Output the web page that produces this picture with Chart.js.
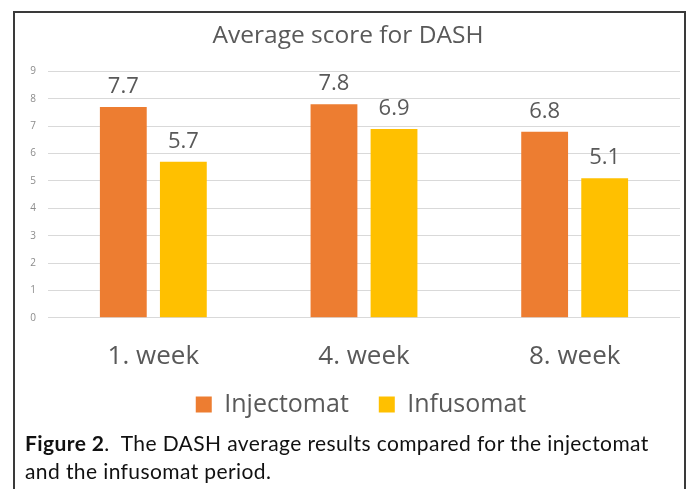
<!DOCTYPE html>
<html lang="en">
<head>
    <meta charset="UTF-8">
    <title>Average score for DASH</title>
    <style>
        body {
            margin: 0;
            padding: 0;
            background-color: white;
            width: 697px;
            height: 489px;
            overflow: hidden;
            position: relative;
        }
        .frame {
            position: absolute;
            left: 13px;
            top: 11px;
            width: 669px;
            height: 500px;
            border: 2px solid #3a3a3a;
        }
        .chart-box {
            position: absolute;
            left: 0;
            top: 0;
            width: 697px;
            height: 440px;
        }
        .caption {
            position: absolute;
            left: 25px;
            top: 429px;
            width: 652px;
            font-family: Lato, "Open Sans", sans-serif;
            font-size: 21px;
            letter-spacing: 0.4px;
            line-height: 28px;
            color: #111;
        }
    </style>
</head>
<body>
    <div class="frame"></div>
    <div class="chart-box"><canvas id="dashChart" width="697" height="440"></canvas></div>
    <div class="caption"><b>Figure 2</b>.&nbsp; The DASH average results compared for the injectomat and the infusomat period.</div>

    <script src="https://cdn.jsdelivr.net/npm/chart.js"></script>
    <script>
        const weeks = ['1. week', '4. week', '8. week'];
        const injectomat = [7.7, 7.8, 6.8];
        const infusomat = [5.7, 6.9, 5.1];
        const yTicks = [0, 1, 2, 3, 4, 5, 6, 7, 8, 9];

        // draw the value above each bar
        const valueLabels = {
            id: 'valueLabels',
            afterDatasetsDraw(chart) {
                const ctx = chart.ctx;
                ctx.save();
                ctx.font = '22px "Open Sans", sans-serif';
                ctx.fillStyle = '#595959';
                ctx.textAlign = 'center';
                ctx.textBaseline = 'alphabetic';
                chart.data.datasets.forEach((ds, i) => {
                    chart.getDatasetMeta(i).data.forEach((bar, j) => {
                        ctx.fillText(ds.data[j].toFixed(1), bar.x, bar.y - 14);
                    });
                });
                ctx.restore();
            }
        };

        // legend sits a little right of the canvas centre in the original
        const legendShift = {
            id: 'legendShift',
            afterLayout(chart) {
                chart.legend.left += 13;
                chart.legend.right += 13;
            }
        };

        new Chart(document.getElementById('dashChart'), {
            type: 'bar',
            data: {
                labels: weeks,
                datasets: [{
                    label: 'Injectomat',
                    data: injectomat,
                    backgroundColor: '#ED7D31',
                    categoryPercentage: 0.57,
                    barPercentage: 0.78
                }, {
                    label: 'Infusomat',
                    data: infusomat,
                    backgroundColor: '#FFC000',
                    categoryPercentage: 0.57,
                    barPercentage: 0.78
                }]
            },
            options: {
                responsive: false,
                animation: false,
                layout: { padding: { left: 16, right: 17, top: 0, bottom: 13 } },
                plugins: {
                    title: {
                        display: true,
                        text: 'Average score for DASH',
                        color: '#595959',
                        font: { family: '"Open Sans", sans-serif', size: 24.5, weight: 'normal' },
                        padding: { top: 21, bottom: 21 }
                    },
                    legend: {
                        position: 'bottom',
                        labels: {
                            color: '#595959',
                            font: { family: '"Open Sans", sans-serif', size: 25 },
                            boxWidth: 16,
                            boxHeight: 16,
                            padding: 5,
                            generateLabels(chart) {
                                const items = Chart.defaults.plugins.legend.labels.generateLabels(chart);
                                items[0].text += '\u2003';
                                return items;
                            }
                        }
                    },
                    tooltip: { enabled: false }
                },
                scales: {
                    x: {
                        grid: { display: false },
                        border: { display: false },
                        ticks: {
                            color: '#595959',
                            font: { family: '"Open Sans", sans-serif', size: 26 },
                            padding: 15
                        }
                    },
                    y: {
                        min: 0,
                        max: 9,
                        afterBuildTicks(scale) {
                            scale.ticks = yTicks.map(v => ({ value: v }));
                        },
                        afterFit(scale) {
                            scale.width = 32;
                        },
                        grid: { color: '#d9d9d9', drawTicks: false },
                        border: { display: false },
                        ticks: {
                            color: '#8c8c8c',
                            font: { family: '"Open Sans", sans-serif', size: 10 },
                            padding: 12
                        }
                    }
                }
            },
            plugins: [valueLabels, legendShift]
        });
    </script>
</body>
</html>
